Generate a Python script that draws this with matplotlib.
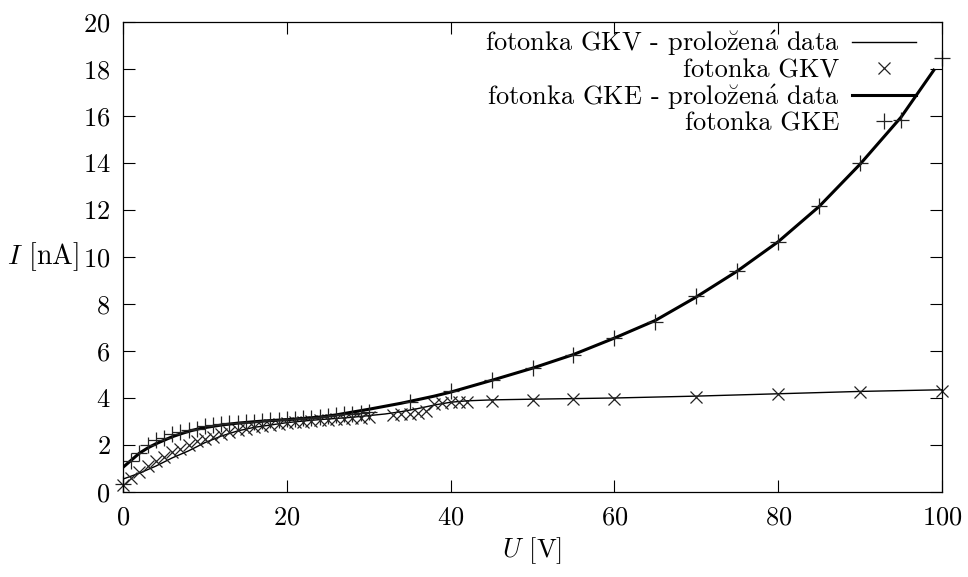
import matplotlib
matplotlib.use("Agg")
import matplotlib.pyplot as plt

plt.rcParams['font.family'] = ['cmr10', 'DejaVu Serif']
plt.rcParams['mathtext.fontset'] = 'cm'
plt.rcParams['axes.formatter.use_mathtext'] = True

# measured data: photocell GKE (+)
u_gke = [0, 1, 2, 3, 4, 5, 6, 7, 8, 9, 10, 11, 12, 13, 14, 15, 16, 17, 18, 19,
         20, 21, 22, 23, 24, 25, 26, 27, 28, 29, 30,
         35, 40, 45, 50, 55, 60, 65, 70, 75, 80, 85, 90, 95, 100]
i_gke = [0.35, 1.3, 1.65, 2.0, 2.2, 2.3, 2.45, 2.55, 2.65, 2.7, 2.8, 2.85, 2.9, 2.92, 2.95, 2.97, 3.0, 3.02, 3.05, 3.07,
         3.1, 3.12, 3.15, 3.17, 3.2, 3.22, 3.27, 3.3, 3.33, 3.36, 3.4,
         3.85, 4.3, 4.77, 5.27, 5.85, 6.54, 7.25, 8.32, 9.4, 10.65, 12.17, 13.98, 15.85, 18.45]

# measured data: photocell GKV (x)
u_gkv = [0, 1, 2, 3, 4, 5, 6, 7, 8, 9, 10, 11, 12, 13, 14, 15, 16, 17, 18, 19,
         20, 21, 22, 23, 24, 25, 26, 27, 28, 29, 30,
         33, 34, 35, 36, 37, 38, 39, 40, 41, 42,
         45, 50, 55, 60, 70, 80, 90, 100]
i_gkv = [0.3, 0.6, 0.85, 1.1, 1.3, 1.5, 1.7, 1.85, 2.0, 2.15, 2.25, 2.35, 2.45, 2.55, 2.62, 2.7, 2.75, 2.8, 2.85, 2.9,
         2.93, 2.97, 3.0, 3.02, 3.05, 3.07, 3.1, 3.12, 3.15, 3.17, 3.2,
         3.28, 3.3, 3.33, 3.38, 3.45, 3.75, 3.8, 3.82, 3.84, 3.85,
         3.88, 3.92, 3.94, 3.95, 4.06, 4.17, 4.25, 4.3]

# fitted curves
fit_u_gke = [0, 1, 2, 3, 4, 5, 6, 7, 8, 9, 10, 12, 14, 16, 18, 20, 22, 24, 26, 28, 30,
             32, 34, 36, 38, 40, 45, 50, 55, 60, 65, 70, 75, 80, 85, 90, 95, 99]
fit_i_gke = [1.05, 1.35, 1.65, 1.87, 2.05, 2.2, 2.35, 2.47, 2.58, 2.67, 2.74, 2.85, 2.93, 2.99, 3.04, 3.08, 3.13, 3.19, 3.28, 3.4, 3.52,
             3.65, 3.78, 3.93, 4.08, 4.25, 4.75, 5.27, 5.85, 6.55, 7.3, 8.3, 9.4, 10.65, 12.15, 13.95, 15.95, 17.95]

fit_u_gkv = [0, 2, 4, 6, 8, 10, 12, 14, 16, 18, 20, 22, 24, 26, 28, 30, 32, 34, 36, 38, 40, 42,
             45, 50, 60, 70, 80, 90, 100]
fit_i_gkv = [0.55, 0.8, 1.1, 1.45, 1.75, 2.1, 2.38, 2.6, 2.75, 2.85, 2.95, 3.02, 3.08, 3.13, 3.18, 3.25, 3.32, 3.42, 3.55, 3.7, 3.82, 3.88,
             3.92, 3.95, 4.0, 4.08, 4.18, 4.28, 4.35]

x_ticks = [0, 20, 40, 60, 80, 100]
y_ticks = [0, 2, 4, 6, 8, 10, 12, 14, 16, 18, 20]

labels = [r'fotonka GKV - prolo$\breve{\mathrm{z}}$en$\acute{\mathrm{a}}$ data', 'fotonka GKV',
          r'fotonka GKE - prolo$\breve{\mathrm{z}}$en$\acute{\mathrm{a}}$ data', 'fotonka GKE']

FS = 19

fig = plt.figure(figsize=(9.68, 5.77), dpi=100)
ax = fig.add_axes([123 / 968, 1 - 492 / 577, (942 - 123) / 968, (492 - 22) / 577])

l1, = ax.plot(fit_u_gkv, fit_i_gkv, color='black', lw=1.0, label=labels[0])
l2, = ax.plot(u_gkv, i_gkv, ls='none', marker='x', ms=9, mew=0.9, color='#222222', label=labels[1], clip_on=False)
l3, = ax.plot(fit_u_gke, fit_i_gke, color='black', lw=2.2, label=labels[2])
l4, = ax.plot(u_gke, i_gke, ls='none', marker='+', ms=12, mew=0.9, color='#222222', label=labels[3], clip_on=False)

ax.set_xlim(0, 100)
ax.set_ylim(0, 20)
ax.set_xticks(x_ticks)
ax.set_yticks(y_ticks)
ax.tick_params(direction='in', length=8.5, width=0.8, top=True, right=True,
               labelsize=FS)
ax.tick_params(axis='x', pad=10)
ax.tick_params(axis='y', pad=9)
for s in ax.spines.values():
    s.set_linewidth(0.9)

ax.text(-0.054, 0.5, r'$I$ [nA]', transform=ax.transAxes, ha='right', va='center', fontsize=FS + 1)
ax.set_xlabel(r'$U$ [V]', fontsize=FS, labelpad=4)

ax.legend(handles=[l1, l2, l3, l4], loc='upper right', frameon=False, markerfirst=False,
          fontsize=FS, handlelength=2.4, handletextpad=0.5, labelspacing=0.0,
          borderaxespad=0.0, borderpad=0.0, bbox_to_anchor=(0.968, 0.985))

fig.savefig('out.png', dpi=100)
